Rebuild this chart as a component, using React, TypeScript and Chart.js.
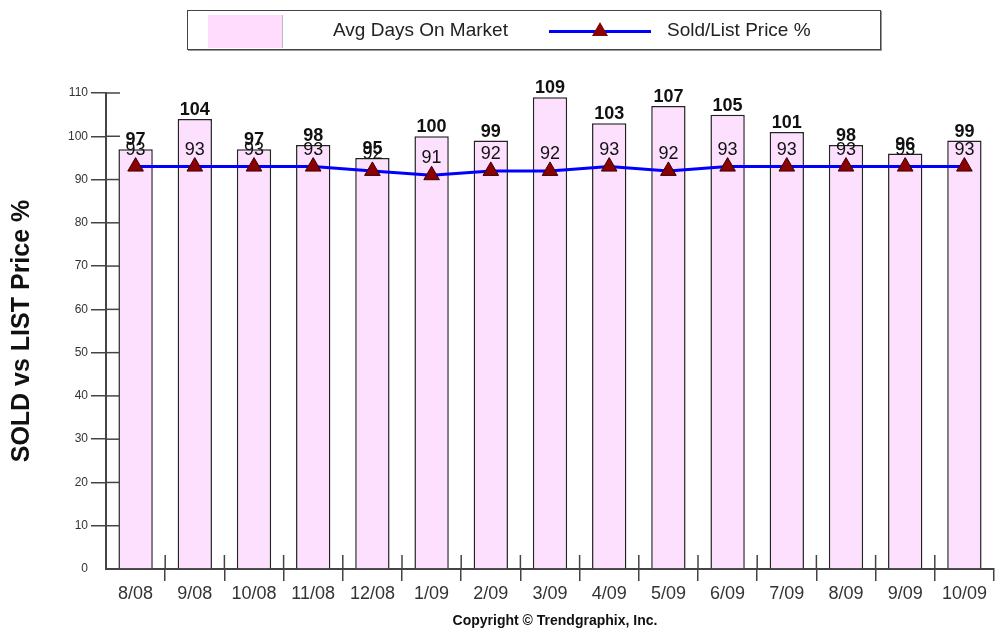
import React, { useEffect, useRef } from 'react';
import { Chart, registerables } from 'chart.js';

Chart.register(...registerables);

const months = ['8/08', '9/08', '10/08', '11/08', '12/08', '1/09', '2/09', '3/09', '4/09', '5/09', '6/09', '7/09', '8/09', '9/09', '10/09'];
const avgDaysOnMarket = [97, 104, 97, 98, 95, 100, 99, 109, 103, 107, 105, 101, 98, 96, 99];
const soldListPct = [93, 93, 93, 93, 92, 91, 92, 92, 93, 92, 93, 93, 93, 93, 93];
const yMin = 0;
const yMax = 110;
const yStep = 10;

const FONT = '"Liberation Sans", Arial, sans-serif';

const valueLabels = {
  id: 'valueLabels',
  afterDatasetsDraw(chart: any) {
    const ctx = chart.ctx;
    chart.data.datasets.forEach((ds: any, i: number) => {
      const meta = chart.getDatasetMeta(i);
      meta.data.forEach((el: any, j: number) => {
        const v = ds.data[j];
        ctx.save();
        ctx.fillStyle = '#111';
        ctx.textAlign = 'center';
        ctx.textBaseline = 'alphabetic';
        if (ds.type === 'bar') {
          ctx.font = `bold 18px ${FONT}`;
          ctx.fillText(String(v), el.x, el.y - 4);
        } else {
          ctx.font = `18px ${FONT}`;
          ctx.fillText(String(v), el.x, el.y - 12);
        }
        ctx.restore();
      });
    });
  },
};

const innerTicks = {
  id: 'innerTicks',
  afterDraw(chart: any) {
    const ctx = chart.ctx;
    const { left, bottom } = chart.chartArea;
    const ys = chart.scales.y;
    const xs = chart.scales.x;
    ctx.save();
    ctx.strokeStyle = '#444';
    ctx.lineWidth = 1.5;
    ys.ticks.forEach((t: any, i: number) => {
      if (t.value === 0) return;
      const py = ys.getPixelForTick(i);
      ctx.beginPath();
      ctx.moveTo(left, py);
      ctx.lineTo(left + 14, py);
      ctx.stroke();
    });
    for (let i = 0; i < xs.ticks.length - 1; i++) {
      const px = (xs.getPixelForTick(i) + xs.getPixelForTick(i + 1)) / 2;
      ctx.beginPath();
      ctx.moveTo(px, bottom - 14);
      ctx.lineTo(px, bottom);
      ctx.stroke();
    }
    ctx.restore();
  },
};

export default function App() {
  const ref = useRef<HTMLCanvasElement | null>(null);

  useEffect(() => {
    if (!ref.current) return;
    const chart = new Chart(ref.current, {
      type: 'bar',
      data: {
        labels: months,
        datasets: [
          {
            type: 'line',
            label: 'Sold/List Price %',
            data: soldListPct,
            borderColor: '#0000ff',
            borderWidth: 3,
            tension: 0,
            pointStyle: 'triangle',
            pointRadius: 9,
            pointBackgroundColor: '#8b0000',
            pointBorderColor: '#3a0000',
            pointBorderWidth: 1,
            order: 0,
          } as any,
          {
            type: 'bar',
            label: 'Avg Days On Market',
            data: avgDaysOnMarket,
            backgroundColor: '#fde0fd',
            borderColor: '#222',
            borderWidth: 1.5,
            categoryPercentage: 1,
            barPercentage: 0.58,
            order: 1,
          } as any,
        ],
      },
      options: {
        responsive: false,
        animation: false,
        layout: { padding: { top: 93, left: 0, right: 0, bottom: 0 } },
        plugins: {
          legend: { display: false },
          tooltip: { enabled: false },
        },
        scales: {
          x: {
            afterFit: (s: any) => { s.height = 59; },
            grid: {
              offset: true,
              drawOnChartArea: false,
              tickLength: 12,
              color: (c: any) => (c.index === 0 ? 'rgba(0,0,0,0)' : '#444'),
              lineWidth: 1.5,
            },
            border: { display: true, color: '#444', width: 2 },
            ticks: {
              color: '#333',
              padding: 2,
              font: { family: FONT, size: 18 },
              maxRotation: 0,
              autoSkip: false,
            },
          },
          y: {
            min: yMin,
            max: yMax,
            afterFit: (s: any) => { s.width = 106; },
            grid: {
              drawOnChartArea: false,
              tickLength: 15,
              color: (c: any) => (c.tick && c.tick.value === 0 ? 'rgba(0,0,0,0)' : '#444'),
              lineWidth: 1.5,
            },
            border: { display: true, color: '#444', width: 2 },
            ticks: {
              stepSize: yStep,
              color: '#333',
              padding: 3,
              font: { family: FONT, size: 12 },
            },
            title: {
              display: true,
              text: 'SOLD vs LIST Price %',
              color: '#111',
              font: { family: FONT, size: 25, weight: 'bold' },
              padding: { top: 7, bottom: 0 },
            },
          },
        },
      },
      plugins: [valueLabels, innerTicks],
    });
    return () => chart.destroy();
  }, []);

  return (
    <div style={{ position: 'fixed', left: 0, top: 0, width: 1000, height: 628, overflow: 'hidden', background: '#fff', fontFamily: FONT }}>
      <canvas ref={ref} width={1004} height={628} style={{ position: 'absolute', left: 0, top: 0, display: 'block' }} />
      <div style={{ position: 'absolute', left: 187, top: 10, width: 692, height: 38, border: '1.5px solid #444', boxShadow: '1px 1px 0 #999', background: '#fff' }}>
        <div style={{ position: 'absolute', left: 20, top: 4, width: 74, height: 33, background: '#ffdcfd', borderRight: '1px solid #bbb' }} />
        <div style={{ position: 'absolute', left: 145, top: 8, fontSize: 19, lineHeight: '22px', color: '#222', whiteSpace: 'nowrap' }}>Avg Days On Market</div>
        <div style={{ position: 'absolute', left: 361, top: 19, width: 102, height: 3, background: '#0000ff' }} />
        <div style={{ position: 'absolute', left: 404, top: 11, width: 0, height: 0, borderLeft: '8px solid transparent', borderRight: '8px solid transparent', borderBottom: '14px solid #8b0000' }} />
        <div style={{ position: 'absolute', left: 479, top: 8, fontSize: 19, lineHeight: '22px', color: '#222', whiteSpace: 'nowrap' }}>Sold/List Price %</div>
      </div>
      <div style={{ position: 'absolute', left: 555, top: 612, transform: 'translateX(-50%)', fontSize: 14, lineHeight: '16px', fontWeight: 'bold', color: '#111', whiteSpace: 'nowrap' }}>Copyright © Trendgraphix, Inc.</div>
    </div>
  );
}
